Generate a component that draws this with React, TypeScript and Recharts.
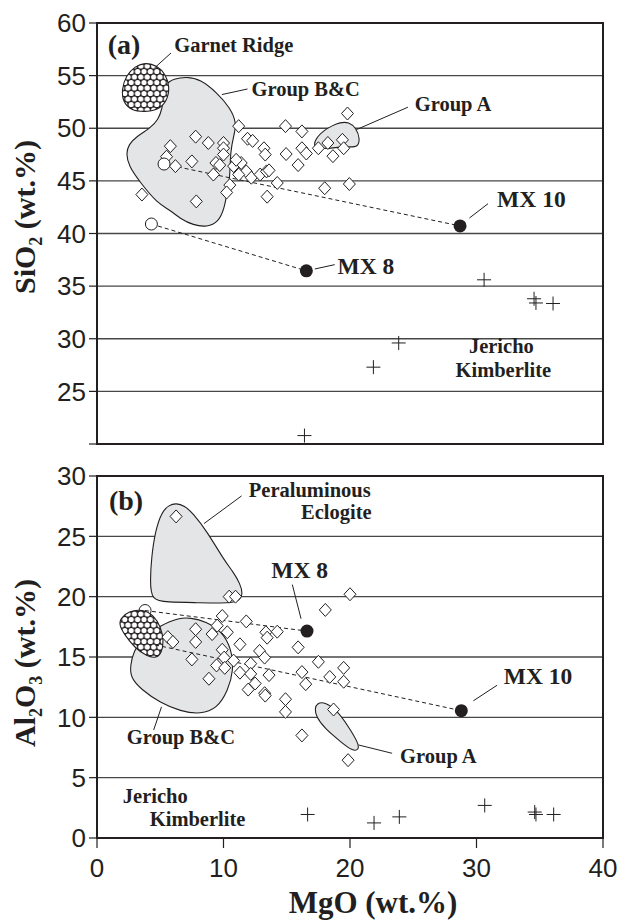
import React from 'react';
import { CartesianGrid, ReferenceArea, Scatter, ScatterChart, XAxis, YAxis } from 'recharts';

const INK = '#231f20';
const SERIF = '"Liberation Serif", "Times New Roman", serif';
const SANS = '"Liberation Sans", Arial, sans-serif';
const FIELD = '#e4e5e7';

const mgoTicks = [0, 10, 20, 30, 40];
const sio2Ticks = [20, 25, 30, 35, 40, 45, 50, 55, 60];
const al2o3Ticks = [0, 5, 10, 15, 20, 25, 30];

// ---------- panel (a): SiO2 vs MgO ----------
const eclogiteA = [
    { x: 19.8, y: 51.4 }, { x: 14.9, y: 50.2 }, { x: 16.2, y: 49.7 }, { x: 11.2, y: 50.2 },
    { x: 7.8, y: 49.2 }, { x: 8.8, y: 48.6 }, { x: 10.0, y: 48.6 }, { x: 10.0, y: 48.1 },
    { x: 5.8, y: 48.3 }, { x: 5.5, y: 47.3 }, { x: 6.2, y: 46.4 }, { x: 7.5, y: 46.85 },
    { x: 9.4, y: 46.7 }, { x: 9.7, y: 46.5 }, { x: 9.2, y: 45.6 }, { x: 10.0, y: 47.5 },
    { x: 10.8, y: 46.4 }, { x: 11.4, y: 46.7 }, { x: 11.0, y: 47.0 }, { x: 11.9, y: 49.0 },
    { x: 12.3, y: 48.8 }, { x: 13.2, y: 48.1 }, { x: 13.3, y: 47.5 }, { x: 11.8, y: 45.9 },
    { x: 11.2, y: 45.6 }, { x: 12.2, y: 45.3 }, { x: 10.5, y: 44.6 }, { x: 10.25, y: 43.9 },
    { x: 12.9, y: 45.6 }, { x: 13.4, y: 45.9 }, { x: 13.6, y: 46.0 }, { x: 14.25, y: 44.8 },
    { x: 13.45, y: 43.5 }, { x: 7.85, y: 43.05 }, { x: 3.55, y: 43.7 }, { x: 14.95, y: 47.55 },
    { x: 16.2, y: 48.1 }, { x: 16.55, y: 47.6 }, { x: 15.9, y: 46.5 }, { x: 17.5, y: 48.1 },
    { x: 18.25, y: 48.6 }, { x: 19.4, y: 48.9 }, { x: 19.5, y: 48.1 }, { x: 18.65, y: 47.35 },
    { x: 18.0, y: 44.3 }, { x: 19.95, y: 44.7 },
];
const jerichoA = [
    { x: 16.4, y: 20.8 }, { x: 21.85, y: 27.3 }, { x: 23.85, y: 29.6 }, { x: 30.6, y: 35.6 },
    { x: 34.55, y: 33.8 }, { x: 34.7, y: 33.4 }, { x: 36.05, y: 33.35 },
];
const protolithA = [{ x: 5.3, y: 46.6 }, { x: 4.3, y: 40.9 }];
const mxA = [{ x: 28.7, y: 40.72 }, { x: 16.55, y: 36.45 }];
const tieLinesA = [
    [{ x: 5.3, y: 46.6 }, { x: 28.7, y: 40.72 }],
    [{ x: 4.3, y: 40.9 }, { x: 16.55, y: 36.45 }],
];
const garnetRidgeA = [
    { x: 3.85, y: 56.25 }, { x: 4.75, y: 55.95 }, { x: 5.45, y: 55.1 }, { x: 5.75, y: 53.9 },
    { x: 5.55, y: 52.6 }, { x: 4.8, y: 51.7 }, { x: 3.7, y: 51.55 }, { x: 2.7, y: 51.7 },
    { x: 2.05, y: 52.5 }, { x: 1.95, y: 53.7 }, { x: 2.3, y: 55.0 }, { x: 3.0, y: 55.9 },
];
const groupBCA = [
    { x: 5.39, y: 54.2 }, { x: 6.05, y: 54.7 }, { x: 7.1, y: 54.9 }, { x: 8.16, y: 54.65 },
    { x: 9.47, y: 53.4 }, { x: 10.52, y: 51.95 }, { x: 11.05, y: 50.5 }, { x: 10.8, y: 49.2 },
    { x: 10.55, y: 47.9 }, { x: 10.5, y: 45.1 }, { x: 10.3, y: 44.0 }, { x: 10.05, y: 42.3 },
    { x: 9.6, y: 41.1 }, { x: 8.7, y: 40.6 }, { x: 7.6, y: 40.8 }, { x: 6.6, y: 41.4 },
    { x: 5.8, y: 42.2 }, { x: 4.75, y: 42.9 }, { x: 3.45, y: 44.8 }, { x: 2.5, y: 46.4 },
    { x: 2.3, y: 47.6 }, { x: 2.5, y: 48.45 }, { x: 3.15, y: 49.25 }, { x: 4.2, y: 50.0 },
    { x: 4.85, y: 50.8 }, { x: 5.15, y: 51.9 }, { x: 5.3, y: 53.0 },
];
const groupAA = [
    { x: 17.1, y: 48.4 }, { x: 17.4, y: 49.2 }, { x: 17.95, y: 49.8 }, { x: 18.6, y: 50.25 },
    { x: 19.2, y: 50.55 }, { x: 19.9, y: 50.6 }, { x: 20.5, y: 50.0 }, { x: 20.8, y: 49.0 },
    { x: 20.6, y: 48.2 }, { x: 20.0, y: 48.25 }, { x: 19.0, y: 48.2 }, { x: 18.1, y: 48.05 },
    { x: 17.4, y: 48.1 },
];
const leadersA = [
    [{ x: 4.54, y: 55.72 }, { x: 5.85, y: 57.15 }],
    [{ x: 9.87, y: 53.2 }, { x: 11.9, y: 53.73 }],
    [{ x: 20.51, y: 49.87 }, { x: 24.58, y: 52.0 }],
    [{ x: 29.44, y: 41.47 }, { x: 30.91, y: 42.83 }],
    [{ x: 17.22, y: 36.63 }, { x: 18.79, y: 37.04 }],
];
const tagA = [{ x: 0.85, y: 57.1, text: '(a)' }];
const namesA = [
    { x: 6.11, y: 57.2, text: 'Garnet Ridge' },
    { x: 12.21, y: 53.02, text: 'Group B&C' },
    { x: 25.12, y: 51.6, text: 'Group A' },
    { x: 29.4, y: 28.6, text: 'Jericho' },
    { x: 28.34, y: 26.35, text: 'Kimberlite' },
];
const mxNamesA = [
    { x: 31.63, y: 42.51, text: 'MX 10' },
    { x: 19.01, y: 36.17, text: 'MX 8' },
];

// ---------- panel (b): Al2O3 vs MgO ----------
const eclogiteB = [
    { x: 20.0, y: 20.2 }, { x: 10.45, y: 20.0 }, { x: 10.95, y: 20.0 }, { x: 18.05, y: 18.9 },
    { x: 9.9, y: 18.4 }, { x: 11.8, y: 17.95 }, { x: 9.5, y: 17.6 }, { x: 7.8, y: 17.3 },
    { x: 9.1, y: 16.9 }, { x: 10.3, y: 17.05 }, { x: 13.35, y: 17.05 }, { x: 14.25, y: 17.1 },
    { x: 13.45, y: 16.6 }, { x: 5.6, y: 16.65 }, { x: 6.0, y: 16.25 }, { x: 7.8, y: 16.25 },
    { x: 11.3, y: 16.05 }, { x: 15.9, y: 15.8 }, { x: 9.9, y: 15.6 }, { x: 12.85, y: 15.5 },
    { x: 13.25, y: 14.95 }, { x: 7.5, y: 14.8 }, { x: 10.05, y: 14.95 }, { x: 9.45, y: 14.3 },
    { x: 10.1, y: 14.1 }, { x: 10.8, y: 14.7 }, { x: 11.3, y: 13.7 }, { x: 12.15, y: 14.45 },
    { x: 12.15, y: 13.6 }, { x: 13.6, y: 13.5 }, { x: 12.5, y: 12.8 }, { x: 11.95, y: 12.3 },
    { x: 13.25, y: 12.0 }, { x: 13.3, y: 11.8 }, { x: 8.85, y: 13.2 }, { x: 14.9, y: 11.5 },
    { x: 14.9, y: 10.45 }, { x: 16.2, y: 13.75 }, { x: 16.5, y: 12.75 }, { x: 17.5, y: 14.6 },
    { x: 18.4, y: 13.35 }, { x: 19.5, y: 14.1 }, { x: 19.5, y: 12.95 }, { x: 18.7, y: 10.65 },
    { x: 16.2, y: 8.5 }, { x: 19.85, y: 6.45 }, { x: 6.25, y: 26.65 },
];
const jerichoB = [
    { x: 16.65, y: 1.95 }, { x: 21.9, y: 1.25 }, { x: 23.9, y: 1.75 }, { x: 30.65, y: 2.7 },
    { x: 34.6, y: 2.15 }, { x: 34.7, y: 1.95 }, { x: 36.1, y: 1.95 },
];
const protolithB = [{ x: 3.8, y: 18.85 }, { x: 4.6, y: 16.0 }];
const mxB = [{ x: 16.6, y: 17.15 }, { x: 28.8, y: 10.55 }];
const tieLinesB = [
    [{ x: 3.8, y: 18.85 }, { x: 16.6, y: 17.15 }],
    [{ x: 4.6, y: 16.0 }, { x: 28.8, y: 10.55 }],
];
const garnetRidgeB = [
    { x: 1.85, y: 18.2 }, { x: 2.5, y: 18.8 }, { x: 3.6, y: 18.95 }, { x: 4.45, y: 18.5 },
    { x: 5.05, y: 17.5 }, { x: 5.28, y: 16.35 }, { x: 5.12, y: 15.35 }, { x: 4.68, y: 14.9 },
    { x: 3.95, y: 15.05 }, { x: 3.0, y: 15.75 }, { x: 2.2, y: 16.8 }, { x: 1.75, y: 17.65 },
];
const peraluminousB = [
    { x: 6.26, y: 27.75 }, { x: 6.9, y: 27.55 }, { x: 7.6, y: 26.9 }, { x: 8.7, y: 25.4 },
    { x: 10.0, y: 23.1 }, { x: 10.8, y: 22.0 }, { x: 11.3, y: 21.1 }, { x: 11.55, y: 20.2 },
    { x: 11.2, y: 19.55 }, { x: 9.9, y: 19.45 }, { x: 8.0, y: 19.5 }, { x: 5.5, y: 19.55 },
    { x: 4.3, y: 19.7 }, { x: 4.2, y: 21.3 }, { x: 4.3, y: 23.2 }, { x: 4.6, y: 25.4 },
    { x: 5.1, y: 27.0 }, { x: 5.7, y: 27.6 },
];
const groupBCB = [
    { x: 6.5, y: 18.25 }, { x: 5.0, y: 17.6 }, { x: 3.6, y: 16.6 }, { x: 2.9, y: 15.5 },
    { x: 2.63, y: 14.3 }, { x: 2.65, y: 13.3 }, { x: 3.5, y: 12.3 }, { x: 5.0, y: 11.2 },
    { x: 6.6, y: 10.5 }, { x: 8.2, y: 10.25 }, { x: 9.5, y: 10.75 }, { x: 10.35, y: 12.2 },
    { x: 10.8, y: 13.9 }, { x: 10.65, y: 15.6 }, { x: 9.9, y: 17.1 }, { x: 8.6, y: 17.95 },
    { x: 7.4, y: 18.25 },
];
const groupAB = [
    { x: 17.38, y: 11.15 }, { x: 18.0, y: 11.29 }, { x: 18.95, y: 10.6 }, { x: 19.89, y: 9.22 },
    { x: 20.67, y: 7.85 }, { x: 20.7, y: 7.3 }, { x: 20.2, y: 7.2 }, { x: 19.26, y: 7.98 },
    { x: 18.0, y: 9.08 }, { x: 17.32, y: 10.05 }, { x: 17.22, y: 10.73 },
];
const leadersB = [
    [{ x: 8.46, y: 26.06 }, { x: 11.43, y: 28.35 }],
    [{ x: 15.44, y: 21.0 }, { x: 16.13, y: 18.17 }],
    [{ x: 29.75, y: 11.37 }, { x: 31.63, y: 12.66 }],
    [{ x: 5.1, y: 10.87 }, { x: 4.48, y: 8.95 }],
    [{ x: 20.67, y: 7.71 }, { x: 23.33, y: 7.02 }],
];
const tagB = [{ x: 0.94, y: 27.2, text: '(b)' }];
const namesB = [
    { x: 12.0, y: 28.3, text: 'Peraluminous' },
    { x: 16.13, y: 26.4, text: 'Eclogite' },
    { x: 2.35, y: 7.79, text: 'Group B&C' },
    { x: 23.96, y: 6.24, text: 'Group A' },
    { x: 2.04, y: 2.9, text: 'Jericho' },
    { x: 4.17, y: 0.98, text: 'Kimberlite' },
];
const mxNamesB = [
    { x: 13.78, y: 21.55, text: 'MX 8' },
    { x: 32.16, y: 12.8, text: 'MX 10' },
];

type Part = [string, boolean];
const sio2Title: Part[] = [['SiO', false], ['2', true], [' (wt.%)', false]];
const al2o3Title: Part[] = [['Al', false], ['2', true], ['O', false], ['3', true], [' (wt.%)', false]];
const mgoTitle: Part[] = [['MgO (wt.%)', false]];

// ---------- marks ----------
const Nothing = () => <g />;

const Diamond = ({ cx, cy }: any) => (
    <path
        d={`M${cx},${cy - 6.5}L${cx + 6},${cy}L${cx},${cy + 6.5}L${cx - 6},${cy}Z`}
        fill="#fff"
        stroke={INK}
        strokeWidth={1}
    />
);

const Cross = ({ cx, cy }: any) => (
    <path d={`M${cx - 7},${cy}H${cx + 7}M${cx},${cy - 7}V${cy + 7}`} stroke={INK} strokeWidth={1} fill="none" />
);

const OpenDot = ({ cx, cy }: any) => <circle cx={cx} cy={cy} r={6} fill="#fff" stroke={INK} strokeWidth={1} />;

const FilledDot = ({ cx, cy }: any) => <circle cx={cx} cy={cy} r={6.5} fill={INK} />;

const textShape = (size: number) => ({ cx, cy, payload }: any) => (
    <text x={cx} y={cy} fontFamily={SERIF} fontWeight="bold" fontSize={size} fill={INK}>
        {payload.text}
    </text>
);
const TagText = textShape(28);
const NameText = textShape(20.5);
const MxText = textShape(23.5);

const AxisTitle = ({ px, py, vertical, parts, size }: any) => {
    let prev = false;
    return (
        <text
            transform={`translate(${px},${py})${vertical ? ' rotate(-90)' : ''}`}
            textAnchor="middle"
            fontFamily={SERIF}
            fontWeight="bold"
            fontSize={size}
            fill={INK}
        >
            {parts.map(([s, sub]: Part, i: number) => {
                const dy = sub === prev ? 0 : sub ? size * 0.22 : -size * 0.22;
                prev = sub;
                return (
                    <tspan key={i} dy={dy} fontSize={sub ? size * 0.6 : size}>
                        {s}
                    </tspan>
                );
            })}
        </text>
    );
};

const circlePattern = (id: string) => (
    <pattern id={id} width={6.4} height={11} patternUnits="userSpaceOnUse">
        <rect width={6.4} height={11} fill={INK} />
        <circle cx={0} cy={0} r={2.6} fill="#fff" />
        <circle cx={6.4} cy={0} r={2.6} fill="#fff" />
        <circle cx={3.2} cy={5.5} r={2.6} fill="#fff" />
        <circle cx={0} cy={11} r={2.6} fill="#fff" />
        <circle cx={6.4} cy={11} r={2.6} fill="#fff" />
    </pattern>
);

const field = (data: any[], key: string, fill: string) => (
    <Scatter
        key={key}
        data={data}
        line={{ fill, stroke: INK, strokeWidth: 1.1 }}
        lineJointType="basisClosed"
        shape={Nothing}
        isAnimationActive={false}
    />
);

const segment = (pts: any[], key: string, dashed: boolean) => (
    <Scatter
        key={key}
        data={pts}
        line={dashed ? { stroke: INK, strokeWidth: 1, strokeDasharray: '4 3' } : { stroke: INK, strokeWidth: 1 }}
        shape={Nothing}
        isAnimationActive={false}
    />
);

const marks = (data: any[], shape: any) => <Scatter data={data} shape={shape} isAnimationActive={false} />;

const axisLine = { stroke: INK, strokeWidth: 2 };
const tickLine = { stroke: INK, strokeWidth: 1.2 };
const tickStyle = { fontSize: 26, fill: INK, fontFamily: SANS };

export default function App() {
    return (
        <div style={{ position: 'absolute', left: 0, top: 0, width: 621, height: 920, background: '#fff' }}>
            <ScatterChart width={621} height={460} margin={{ top: 23, right: 18, bottom: 0, left: 0 }}>
                <defs>{circlePattern('garnet-a')}</defs>
                <CartesianGrid vertical={false} stroke="#474747" strokeWidth={1.3} />
                <XAxis
                    type="number"
                    dataKey="x"
                    domain={[0, 40]}
                    ticks={mgoTicks}
                    tick={false}
                    tickSize={10}
                    height={16}
                    axisLine={axisLine}
                    tickLine={tickLine}
                />
                <YAxis
                    type="number"
                    dataKey="y"
                    domain={[20, 60]}
                    ticks={sio2Ticks}
                    interval={0}
                    tickFormatter={(v: number) => (v === 20 ? '' : String(v))}
                    width={97}
                    tickSize={8}
                    tickMargin={3}
                    tick={tickStyle}
                    axisLine={axisLine}
                    tickLine={tickLine}
                    label={<AxisTitle px={35} py={217} vertical parts={sio2Title} size={30} />}
                />
                <ReferenceArea x1={0} x2={40} y1={20} y2={60} fill="none" stroke={INK} strokeWidth={2} />
                {field(groupBCA, 'bc-a', FIELD)}
                {field(groupAA, 'ga-a', FIELD)}
                {field(garnetRidgeA, 'gr-a', 'url(#garnet-a)')}
                {tieLinesA.map((t, i) => segment(t, `tie-a-${i}`, true))}
                {leadersA.map((l, i) => segment(l, `lead-a-${i}`, false))}
                {marks(eclogiteA, Diamond)}
                {marks(jerichoA, Cross)}
                {marks(protolithA, OpenDot)}
                {marks(mxA, FilledDot)}
                {marks(tagA, TagText)}
                {marks(namesA, NameText)}
                {marks(mxNamesA, MxText)}
            </ScatterChart>
            <ScatterChart width={621} height={460} margin={{ top: 16, right: 18, bottom: 0, left: 0 }}>
                <defs>{circlePattern('garnet-b')}</defs>
                <CartesianGrid vertical={false} stroke="#474747" strokeWidth={1.3} />
                <XAxis
                    type="number"
                    dataKey="x"
                    domain={[0, 40]}
                    ticks={mgoTicks}
                    interval={0}
                    tick={tickStyle}
                    tickSize={10}
                    tickMargin={11}
                    height={82}
                    axisLine={axisLine}
                    tickLine={tickLine}
                    label={<AxisTitle px={373} py={453} parts={mgoTitle} size={31} />}
                />
                <YAxis
                    type="number"
                    dataKey="y"
                    domain={[0, 30]}
                    ticks={al2o3Ticks}
                    interval={0}
                    width={97}
                    tickSize={8}
                    tickMargin={3}
                    tick={tickStyle}
                    axisLine={axisLine}
                    tickLine={tickLine}
                    label={<AxisTitle px={35} py={203} vertical parts={al2o3Title} size={30} />}
                />
                <ReferenceArea x1={0} x2={40} y1={0} y2={30} fill="none" stroke={INK} strokeWidth={2} />
                {field(peraluminousB, 'pe-b', FIELD)}
                {field(groupBCB, 'bc-b', FIELD)}
                {field(groupAB, 'ga-b', FIELD)}
                {marks(protolithB, OpenDot)}
                {field(garnetRidgeB, 'gr-b', 'url(#garnet-b)')}
                {tieLinesB.map((t, i) => segment(t, `tie-b-${i}`, true))}
                {leadersB.map((l, i) => segment(l, `lead-b-${i}`, false))}
                {marks(eclogiteB, Diamond)}
                {marks(jerichoB, Cross)}
                {marks(mxB, FilledDot)}
                {marks(tagB, TagText)}
                {marks(namesB, NameText)}
                {marks(mxNamesB, MxText)}
            </ScatterChart>
        </div>
    );
}
